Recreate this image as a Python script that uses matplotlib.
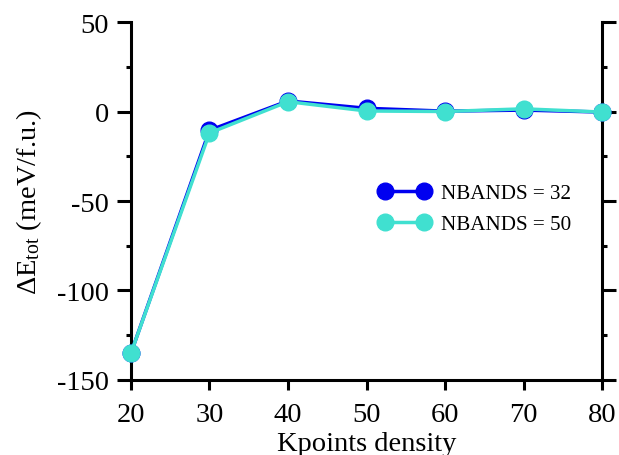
import matplotlib
matplotlib.use("Agg")
import matplotlib.pyplot as plt
from matplotlib.ticker import MultipleLocator

plt.rcParams['font.family'] = ['Liberation Serif', 'DejaVu Serif']
plt.rcParams['mathtext.fontset'] = 'custom'
plt.rcParams['mathtext.rm'] = 'Liberation Serif'
plt.rcParams['mathtext.it'] = 'Liberation Serif:italic'
plt.rcParams['axes.unicode_minus'] = False

# total energy difference vs k-point density for two band counts
kpoints = [20, 30, 40, 50, 60, 70, 80]
de_nb32 = [-135.0, -10.5, 5.9, 1.8, 0.2, 0.8, -0.3]
de_nb50 = [-135.0, -12.0, 5.5, 0.3, 0.0, 1.5, -0.3]

fig = plt.figure(figsize=(6.19, 4.56), dpi=100)
ax = fig.add_axes([0.2116, 0.1645, 0.761, 0.785])

ax.plot(kpoints, de_nb32, '-o', color='#0000f0', lw=2.5, ms=12,
        label='NBANDS = 32', clip_on=False, zorder=3)
ax.plot(kpoints, de_nb50, '-o', color='#40e0d0', lw=2.5, ms=12,
        label='NBANDS = 50', clip_on=False, zorder=4)

ax.set_xlim(20, 80)
ax.set_ylim(-150, 50)
ax.xaxis.set_major_locator(MultipleLocator(10))
ax.yaxis.set_major_locator(MultipleLocator(50))
ax.yaxis.set_minor_locator(MultipleLocator(25))

ax.spines['top'].set_visible(False)
for s in ['left', 'right', 'bottom']:
    ax.spines[s].set_linewidth(2.2)

ax.tick_params(axis='both', which='major', direction='out', width=2.2,
               labelsize=20.5)
ax.tick_params(axis='y', which='major', length=10, right=True, pad=6)
ax.tick_params(axis='y', which='minor', length=3.5, width=2.2, right=True)
ax.tick_params(axis='x', which='major', length=7, pad=9)

ax.set_xlabel('Kpoints density', fontsize=20.5, labelpad=3)
ax.set_ylabel(r'$\Delta$E$_{\rm tot}$ (meV/f.u.)', fontsize=20.5, labelpad=9)

ax.legend(loc='center left', bbox_to_anchor=(0.486, 0.478), frameon=False,
          fontsize=15.2, numpoints=2, handlelength=2.45, handletextpad=0.5,
          labelspacing=0.55)

fig.savefig('out.png', dpi=100)
